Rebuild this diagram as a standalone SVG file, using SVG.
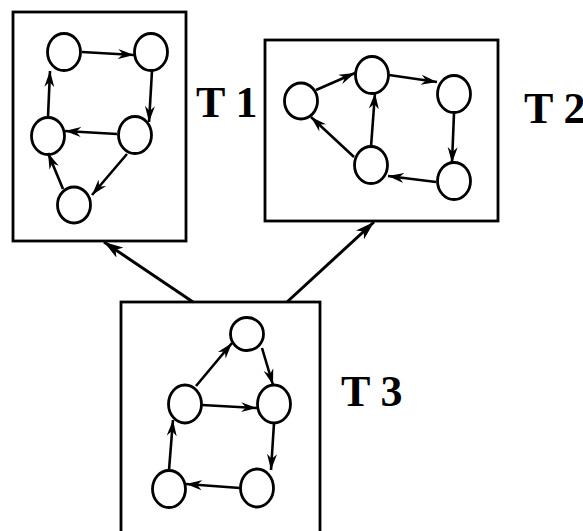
<svg xmlns="http://www.w3.org/2000/svg" width="583" height="531" viewBox="0 0 583 531">
<defs>
<style>
.box{fill:none;stroke:#000;stroke-width:2.8}
.nd{fill:#fff;stroke:#000;stroke-width:2.8}
.e{fill:none;stroke:#000;stroke-width:2.6;marker-end:url(#ah)}
.c{fill:none;stroke:#000;stroke-width:3;marker-end:url(#ahb)}
.lbl{font-family:"Liberation Serif","Times New Roman",serif;font-weight:bold;font-size:44px;fill:#000}
</style>
<marker id="ah" markerUnits="userSpaceOnUse" markerWidth="17" markerHeight="12" refX="16" refY="6" orient="auto">
<path d="M0,1 L16,6 L0,11 L5,6 z" fill="#000"/>
</marker>
<marker id="ahb" markerUnits="userSpaceOnUse" markerWidth="20" markerHeight="14" refX="19" refY="7" orient="auto">
<path d="M0,1 L19,7 L0,13 L5,7 z" fill="#000"/>
</marker>
</defs>
<rect width="583" height="531" fill="#fff"/>

<g id="T1">
<rect class="box" x="13" y="12" width="173" height="229"/>
<ellipse class="nd" cx="64" cy="52" rx="16.5" ry="18.5"/>
<ellipse class="nd" cx="151" cy="52" rx="16.5" ry="18.5"/>
<ellipse class="nd" cx="135" cy="135" rx="16.5" ry="18.5"/>
<ellipse class="nd" cx="48" cy="136" rx="16.5" ry="18.5"/>
<ellipse class="nd" cx="74" cy="205" rx="16.5" ry="18"/>
<text class="lbl" x="196" y="117">T 1</text>
</g>

<g id="T2">
<rect class="box" x="265" y="40" width="233" height="181"/>
<ellipse class="nd" cx="301" cy="101" rx="16.5" ry="18"/>
<ellipse class="nd" cx="372" cy="75" rx="16.5" ry="18.5"/>
<ellipse class="nd" cx="454" cy="94" rx="16.5" ry="18.5"/>
<ellipse class="nd" cx="371" cy="165" rx="16.5" ry="18.5"/>
<ellipse class="nd" cx="454" cy="181" rx="16.5" ry="18.5"/>
<text class="lbl" x="524" y="123">T 2</text>
</g>

<g id="T3">
<rect class="box" x="121" y="302" width="199" height="240"/>
<ellipse class="nd" cx="247" cy="334" rx="16.5" ry="16.5"/>
<ellipse class="nd" cx="185" cy="404" rx="16.5" ry="19"/>
<ellipse class="nd" cx="274" cy="404" rx="16.5" ry="19"/>
<ellipse class="nd" cx="169" cy="489" rx="16.5" ry="18.5"/>
<ellipse class="nd" cx="257" cy="488" rx="16.5" ry="19"/>
<text class="lbl" x="341" y="406">T 3</text>
</g>

<g id="connectors">
<line class="e" x1="82" y1="52" x2="134" y2="55"/>
<line class="e" x1="152" y1="71" x2="149" y2="122"/>
<line class="e" x1="117" y1="134" x2="65" y2="131"/>
<line class="e" x1="48" y1="117" x2="50" y2="71"/>
<line class="e" x1="127" y1="154" x2="92" y2="195"/>
<line class="e" x1="63" y1="189" x2="48" y2="153"/>

<line class="e" x1="316" y1="90" x2="355" y2="73"/>
<line class="e" x1="389" y1="75" x2="437" y2="82"/>
<line class="e" x1="454" y1="113" x2="452" y2="163"/>
<line class="e" x1="436" y1="182" x2="388" y2="176"/>
<line class="e" x1="371" y1="147" x2="375" y2="93"/>
<line class="e" x1="354" y1="157" x2="311" y2="117"/>

<line class="e" x1="196" y1="386" x2="232" y2="343"/>
<line class="e" x1="262" y1="348" x2="273" y2="385"/>
<line class="e" x1="202" y1="405" x2="257" y2="408"/>
<line class="e" x1="274" y1="423" x2="271" y2="470"/>
<line class="e" x1="240" y1="488" x2="186" y2="484"/>
<line class="e" x1="169" y1="470" x2="173" y2="420"/>

<line class="c" x1="193" y1="302" x2="104" y2="242"/>
<line class="c" x1="287" y1="302" x2="374" y2="222"/>
</g>
</svg>
